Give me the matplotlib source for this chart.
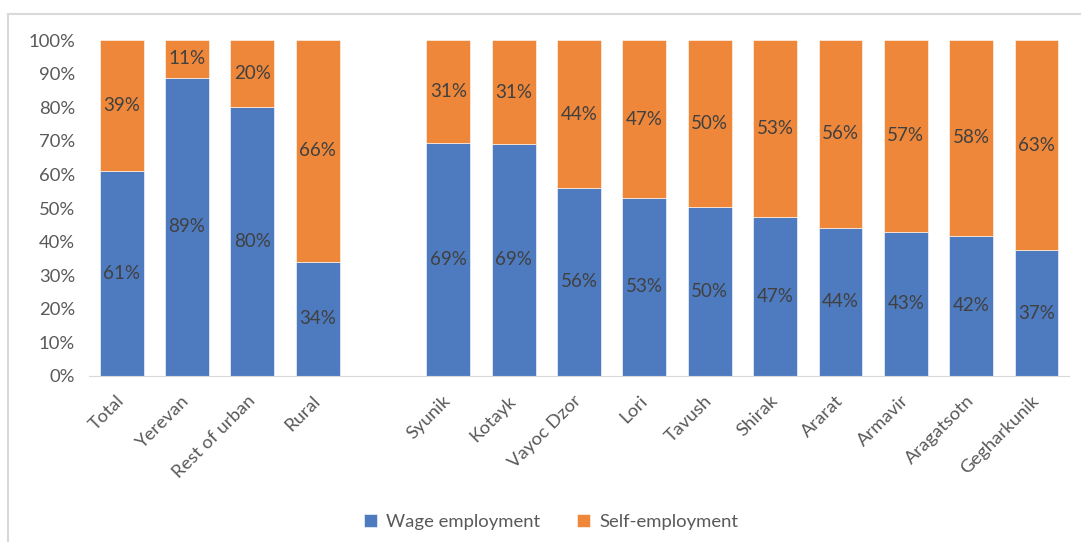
import numpy as np
import matplotlib
matplotlib.use("Agg")
import matplotlib.pyplot as plt
from matplotlib.lines import Line2D

# data
regions = ['Total', 'Yerevan', 'Rest of urban', 'Rural',
           'Syunik', 'Kotayk', 'Vayoc Dzor', 'Lori', 'Tavush', 'Shirak',
           'Ararat', 'Armavir', 'Aragatsotn', 'Gegharkunik']
wage = [61.0, 88.8, 80.1, 34.0, 69.4, 69.1, 56.0, 53.0, 50.4, 47.2, 44.2, 43.0, 41.8, 37.4]
self_emp = [100 - w for w in wage]

blue = '#4E7BC0'
orange = '#EE8739'
txt = '#404040'
tick_col = '#595959'

plt.rcParams['font.family'] = ['Lato', 'DejaVu Sans']

# empty slot between the urban/rural group and the marzes
pos = np.array(list(range(4)) + list(range(5, 15)))

fig = plt.figure(figsize=(10.81, 5.42), dpi=100)
ax = fig.add_axes([0.0823, 0.3063, 0.9067, 0.6197])

ax.bar(pos, wage, width=0.67, color=blue, edgecolor='white', linewidth=0.4, label='Wage employment')
ax.bar(pos, self_emp, width=0.67, bottom=wage, color=orange, edgecolor='white', linewidth=0.4,
       label='Self-employment')

for x, w, s in zip(pos, wage, self_emp):
    ax.text(x, w / 2, f'{round(w)}%', ha='center', va='center', fontsize=13.5, color=txt)
    ax.text(x, w + s / 2, f'{round(s)}%', ha='center', va='center', fontsize=13.5, color=txt)

ax.set_xlim(-0.5, 14.5)
ax.set_ylim(0, 100)
ax.set_yticks(np.arange(0, 101, 10))
ax.set_yticklabels([f'{v}%' for v in range(0, 101, 10)])
ax.set_xticks(pos)
ax.set_xticklabels(regions, rotation=45, ha='right', va='center', rotation_mode='anchor')
ax.tick_params(axis='both', length=0, labelsize=13.3, labelcolor=tick_col)
ax.tick_params(axis='y', pad=10)
ax.tick_params(axis='x', pad=16)

for side in ['top', 'right', 'left']:
    ax.spines[side].set_visible(False)
ax.spines['bottom'].set_color('#D9D9D9')

fig.legend(loc='center', bbox_to_anchor=(0.51, 0.037), ncol=2, frameon=False,
           fontsize=13.3, labelcolor=tick_col, handlelength=0.7, handleheight=0.7,
           columnspacing=2.0, handletextpad=0.5)

# frame of the chart box (only top and left are visible in the crop)
fig.add_artist(Line2D([8 / 1081, 1], [1 - 14 / 542, 1 - 14 / 542], color='#D9D9D9', lw=1.5))
fig.add_artist(Line2D([8 / 1081, 8 / 1081], [0, 1 - 14 / 542], color='#D9D9D9', lw=1.5))

fig.savefig('out.png', dpi=100, facecolor='white')
